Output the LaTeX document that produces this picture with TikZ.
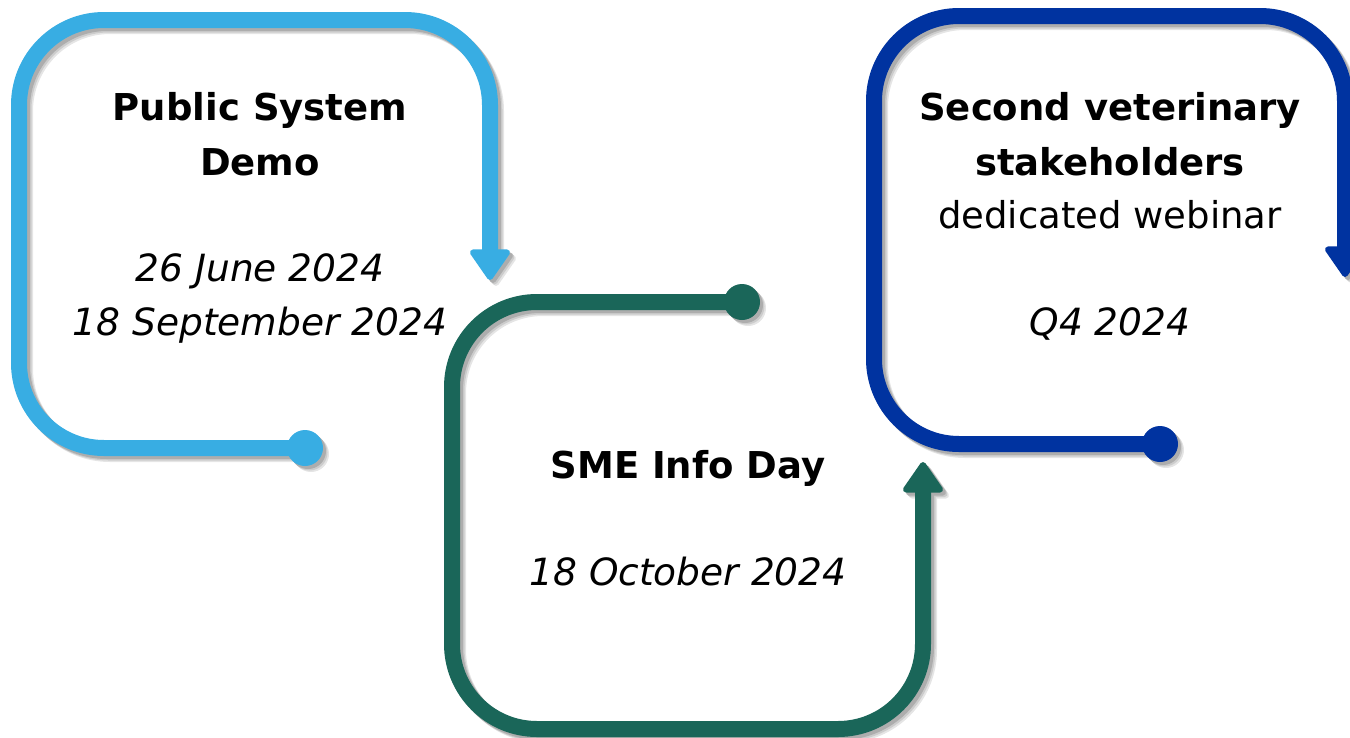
\documentclass[tikz,border=0pt]{standalone}
\usepackage{fontspec}
\setmainfont{DejaVu Sans}
\usetikzlibrary{arrows.meta}

\definecolor{stepsky}{HTML}{38ADE3}
\definecolor{steppine}{HTML}{1A6659}
\definecolor{stepnavy}{HTML}{0033A0}

\tikzset{
  loopline/.style={line width=16pt, rounded corners=85pt, line cap=round,
    -{Triangle[width=44pt, length=33pt, line width=6pt, round]}},
  enddot/.style={circle, inner sep=0pt, minimum size=36pt},
}

\begin{document}
\begin{tikzpicture}[x=1pt, y=-1pt,
    heading/.style={anchor=base, font=\fontsize{37}{44}\selectfont\bfseries},
    plain/.style={anchor=base, font=\fontsize{37}{44}\selectfont},
    datestyle/.style={anchor=base, font=\fontsize{37.5}{44}\selectfont\itshape}]
  \useasboundingbox (0,0) rectangle (1350,737);
  \clip (0,0) rectangle (1350,737);

  % corner points of the three loops
  \coordinate (a0) at (305,448);  \coordinate (a1) at (19,448);
  \coordinate (a2) at (19,20);    \coordinate (a3) at (490,20);
  \coordinate (a4) at (490,280);
  \coordinate (b0) at (742,302);  \coordinate (b1) at (452,302);
  \coordinate (b2) at (452,729);  \coordinate (b3) at (923,729);
  \coordinate (b4) at (923,462);
  \coordinate (c0) at (1160,444); \coordinate (c1) at (874,444);
  \coordinate (c2) at (874,16);   \coordinate (c3) at (1345,16);
  \coordinate (c4) at (1345,277);

  % soft shadows: offset grey copies, lightest and farthest first
  \foreach \d/\g in {6/10, 4.5/20, 3/32}{
    \begin{scope}[transform canvas={xshift=\d pt, yshift=-\d pt}]
      \draw[loopline, black!\g] (a0) -- (a1) -- (a2) -- (a3) -- (a4);
      \draw[loopline, black!\g] (b0) -- (b1) -- (b2) -- (b3) -- (b4);
      \draw[loopline, black!\g] (c0) -- (c1) -- (c2) -- (c3) -- (c4);
      \fill[black!\g] (a0) circle (18);
      \fill[black!\g] (b0) circle (18);
      \fill[black!\g] (c0) circle (18);
    \end{scope}
  }

  % the loops
  \draw[loopline, stepsky] (a0) -- (a1) -- (a2) -- (a3) -- (a4);
  \node[enddot, fill=stepsky] (dotA) at (a0) {};
  \draw[loopline, steppine] (b0) -- (b1) -- (b2) -- (b3) -- (b4);
  \node[enddot, fill=steppine] (dotB) at (b0) {};
  \draw[loopline, stepnavy] (c0) -- (c1) -- (c2) -- (c3) -- (c4);
  \node[enddot, fill=stepnavy] (dotC) at (c0) {};

  % texts
  \node[heading] (demoA) at (260,120) {Public System};
  \node[heading] (demoB) at (260,175) {Demo};
  \node[datestyle] (demoC) at (260,281) {26 June 2024};
  \node[datestyle] (demoD) at (260,335) {18 September 2024};

  \node[heading] (smeA) at (688,478) {SME Info Day};
  \node[datestyle] (smeB) at (688,585) {18 October 2024};

  \node[heading] (vetA) at (1110,120) {Second veterinary};
  \node[heading] (vetB) at (1110,175) {stakeholders};
  \node[plain] (vetC) at (1110,228) {dedicated webinar};
  \node[datestyle] (vetD) at (1110,335) {Q4 2024};
\end{tikzpicture}
\end{document}
